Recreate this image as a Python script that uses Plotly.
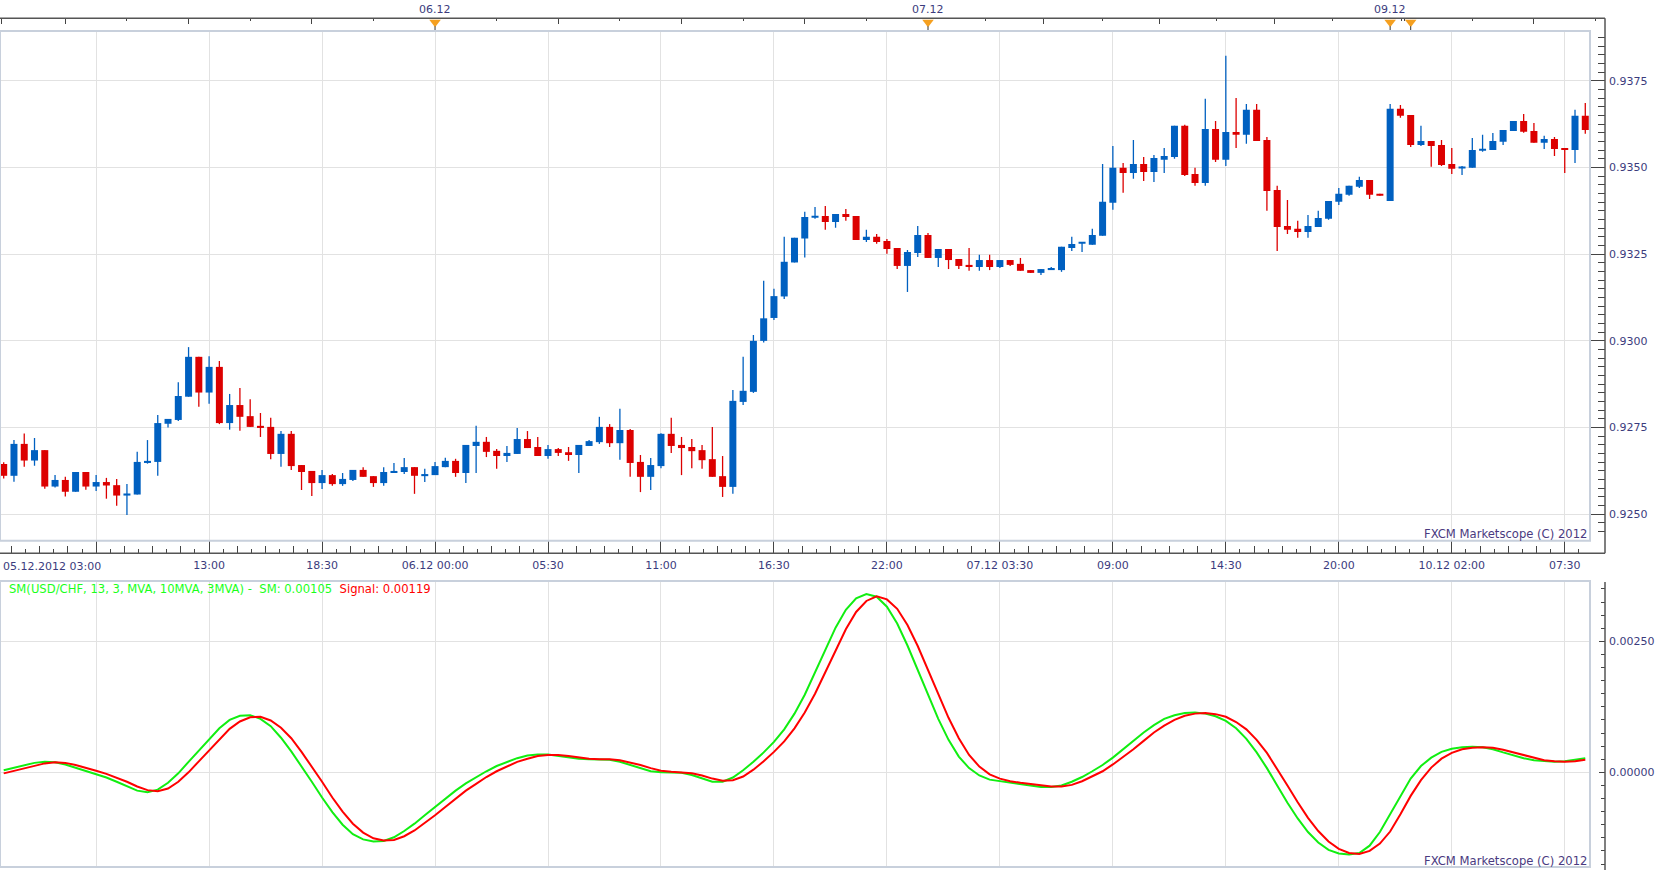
import plotly.graph_objects as go

# ---------------- data ----------------
opens = [0.92645,0.92611,0.92703,0.92655,0.92685,0.92580,0.92599,0.92565,0.92622,0.92580,
0.92593,0.92584,0.92554,0.92557,0.92648,0.92651,0.92761,0.92772,0.92839,0.92954,
0.92851,0.92925,0.92763,0.92815,0.92783,0.92755,0.92752,0.92674,0.92732,0.92642,
0.92625,0.92590,0.92613,0.92587,0.92599,0.92628,0.92610,0.92590,0.92619,0.92622,
0.92636,0.92610,0.92613,0.92636,0.92654,0.92619,0.92697,0.92709,0.92683,0.92668,
0.92674,0.92717,0.92694,0.92668,0.92688,0.92679,0.92671,0.92697,0.92708,0.92752,
0.92705,0.92743,0.92651,0.92608,0.92639,0.92732,0.92700,0.92694,0.92685,0.92659,
0.92610,0.92579,0.92824,0.92853,0.93000,0.93066,0.93128,0.93226,0.93295,0.93355,
0.93360,0.93343,0.93366,0.93360,0.93291,0.93300,0.93288,0.93268,0.93216,0.93253,
0.93305,0.93239,0.93265,0.93236,0.93219,0.93213,0.93233,0.93213,0.93233,0.93222,
0.93204,0.93196,0.93204,0.93204,0.93268,0.93280,0.93277,0.93303,0.93398,0.93499,
0.93484,0.93510,0.93487,0.93522,0.93530,0.93620,0.93481,0.93455,0.93611,0.93522,
0.93602,0.93594,0.93666,0.93579,0.93435,0.93331,0.93323,0.93314,0.93328,0.93352,
0.93401,0.93421,0.93444,0.93464,0.93424,0.93403,0.93669,0.93651,0.93565,0.93576,
0.93565,0.93510,0.93497,0.93499,0.93548,0.93550,0.93574,0.93605,0.93634,0.93605,
0.93571,0.93582,0.93556,0.93550,0.93649]

highs = [0.92650,0.92714,0.92733,0.92720,0.92685,0.92613,0.92608,0.92622,0.92622,0.92613,
0.92605,0.92602,0.92587,0.92680,0.92714,0.92786,0.92775,0.92881,0.92982,0.92954,
0.92956,0.92942,0.92847,0.92864,0.92832,0.92792,0.92778,0.92740,0.92740,0.92642,
0.92625,0.92628,0.92616,0.92619,0.92628,0.92636,0.92610,0.92636,0.92648,0.92662,
0.92636,0.92631,0.92651,0.92663,0.92660,0.92700,0.92755,0.92723,0.92688,0.92697,
0.92749,0.92740,0.92723,0.92700,0.92691,0.92694,0.92700,0.92714,0.92781,0.92760,
0.92804,0.92746,0.92671,0.92662,0.92734,0.92778,0.92723,0.92717,0.92700,0.92752,
0.92668,0.92858,0.92954,0.93017,0.93173,0.93150,0.93300,0.93297,0.93372,0.93386,
0.93389,0.93366,0.93380,0.93360,0.93320,0.93308,0.93294,0.93268,0.93262,0.93331,
0.93311,0.93265,0.93265,0.93236,0.93268,0.93248,0.93248,0.93233,0.93233,0.93239,
0.93204,0.93207,0.93213,0.93271,0.93300,0.93282,0.93323,0.93510,0.93562,0.93513,
0.93579,0.93530,0.93536,0.93556,0.93620,0.93623,0.93499,0.93698,0.93634,0.93822,
0.93700,0.93683,0.93683,0.93588,0.93447,0.93406,0.93346,0.93363,0.93375,0.93403,
0.93441,0.93447,0.93473,0.93464,0.93424,0.93683,0.93680,0.93651,0.93620,0.93576,
0.93579,0.93556,0.93504,0.93585,0.93594,0.93599,0.93608,0.93634,0.93654,0.93628,
0.93591,0.93588,0.93556,0.93666,0.93686]

lows = [0.92603,0.92594,0.92637,0.92640,0.92574,0.92577,0.92551,0.92565,0.92571,0.92567,
0.92545,0.92525,0.92498,0.92557,0.92646,0.92611,0.92750,0.92769,0.92839,0.92810,
0.92819,0.92760,0.92744,0.92741,0.92752,0.92723,0.92659,0.92637,0.92628,0.92570,
0.92553,0.92573,0.92582,0.92582,0.92596,0.92608,0.92579,0.92582,0.92619,0.92616,
0.92559,0.92593,0.92613,0.92636,0.92608,0.92590,0.92619,0.92665,0.92631,0.92651,
0.92674,0.92691,0.92668,0.92660,0.92668,0.92654,0.92619,0.92697,0.92703,0.92694,
0.92657,0.92608,0.92564,0.92570,0.92633,0.92677,0.92613,0.92633,0.92631,0.92608,
0.92550,0.92559,0.92815,0.92850,0.92995,0.93060,0.93121,0.93226,0.93240,0.93352,
0.93320,0.93326,0.93346,0.93291,0.93285,0.93280,0.93251,0.93207,0.93141,0.93242,
0.93239,0.93213,0.93207,0.93207,0.93202,0.93202,0.93204,0.93210,0.93216,0.93202,
0.93196,0.93190,0.93204,0.93199,0.93259,0.93256,0.93277,0.93303,0.93378,0.93427,
0.93467,0.93461,0.93458,0.93484,0.93525,0.93475,0.93447,0.93447,0.93516,0.93504,
0.93556,0.93568,0.93576,0.93375,0.93259,0.93308,0.93297,0.93297,0.93328,0.93349,
0.93392,0.93418,0.93441,0.93409,0.93418,0.93403,0.93643,0.93559,0.93562,0.93502,
0.93504,0.93481,0.93478,0.93499,0.93545,0.93550,0.93565,0.93605,0.93600,0.93571,
0.93553,0.93533,0.93484,0.93513,0.93597]

closes = [0.92611,0.92703,0.92655,0.92685,0.92580,0.92599,0.92565,0.92622,0.92580,0.92593,
0.92583,0.92554,0.92559,0.92651,0.92654,0.92763,0.92775,0.92841,0.92954,0.92851,
0.92925,0.92763,0.92815,0.92781,0.92752,0.92749,0.92674,0.92732,0.92639,0.92622,
0.92590,0.92613,0.92587,0.92602,0.92628,0.92608,0.92590,0.92622,0.92625,0.92636,
0.92611,0.92616,0.92639,0.92654,0.92619,0.92700,0.92709,0.92680,0.92668,0.92677,
0.92717,0.92691,0.92668,0.92688,0.92677,0.92671,0.92700,0.92711,0.92752,0.92705,
0.92743,0.92648,0.92608,0.92642,0.92732,0.92697,0.92691,0.92682,0.92656,0.92608,
0.92579,0.92827,0.92856,0.93000,0.93065,0.93129,0.93228,0.93297,0.93357,0.93360,
0.93343,0.93366,0.93357,0.93291,0.93300,0.93285,0.93265,0.93216,0.93256,0.93305,
0.93239,0.93265,0.93233,0.93216,0.93213,0.93233,0.93213,0.93233,0.93219,0.93202,
0.93196,0.93207,0.93207,0.93271,0.93279,0.93282,0.93305,0.93401,0.93499,0.93484,
0.93510,0.93487,0.93527,0.93533,0.93620,0.93478,0.93455,0.93611,0.93522,0.93602,
0.93594,0.93666,0.93576,0.93432,0.93328,0.93320,0.93314,0.93331,0.93354,0.93403,
0.93424,0.93447,0.93464,0.93421,0.93418,0.93669,0.93649,0.93565,0.93576,0.93562,
0.93507,0.93496,0.93502,0.93550,0.93553,0.93576,0.93608,0.93634,0.93603,0.93571,
0.93582,0.93553,0.93550,0.93649,0.93608]

sm = [0.00004,0.00009,0.00014,0.00018,0.00020,0.00019,0.00015,0.00009,0.00003,-0.00004,
-0.00010,-0.00018,-0.00027,-0.00035,-0.00038,-0.00033,-0.00020,-0.00002,0.00020,0.00042,
0.00064,0.00084,0.00100,0.00108,0.00109,0.00102,0.00088,0.00066,0.00040,0.00012,
-0.00018,-0.00048,-0.00076,-0.00100,-0.00118,-0.00128,-0.00132,-0.00131,-0.00124,-0.00112,
-0.00098,-0.00082,-0.00066,-0.00050,-0.00035,-0.00021,-0.00009,0.00002,0.00012,0.00020,
0.00027,0.00032,0.00034,0.00034,0.00031,0.00028,0.00026,0.00025,0.00025,0.00024,
0.00020,0.00014,0.00007,0.00002,0.00000,0.00000,-0.00001,-0.00005,-0.00012,-0.00018,
-0.00018,-0.00010,0.00004,0.00020,0.00038,0.00058,0.00082,0.00112,0.00148,0.00190,
0.00234,0.00276,0.00310,0.00332,0.00340,0.00335,0.00316,0.00284,0.00242,0.00196,
0.00148,0.00102,0.00062,0.00030,0.00008,-0.00006,-0.00014,-0.00017,-0.00020,-0.00022,
-0.00025,-0.00028,-0.00028,-0.00025,-0.00018,-0.00009,0.00002,0.00014,0.00028,0.00044,
0.00060,0.00076,0.00090,0.00102,0.00109,0.00113,0.00114,0.00112,0.00107,0.00098,
0.00084,0.00064,0.00038,0.00008,-0.00025,-0.00058,-0.00088,-0.00114,-0.00134,-0.00148,
-0.00155,-0.00157,-0.00154,-0.00140,-0.00114,-0.00080,-0.00044,-0.00012,0.00012,0.00028,
0.00039,0.00045,0.00048,0.00049,0.00048,0.00044,0.00038,0.00032,0.00027,0.00023,
0.00021,0.00020,0.00021,0.00024,0.00027]

signal = [-0.00002,0.00003,0.00008,0.00013,0.00017,0.00019,0.00018,0.00014,0.00009,0.00003,
-0.00003,-0.00010,-0.00018,-0.00027,-0.00034,-0.00036,-0.00031,-0.00018,0.00000,0.00021,
0.00042,0.00063,0.00083,0.00097,0.00105,0.00106,0.00099,0.00085,0.00065,0.00039,
0.00011,-0.00018,-0.00048,-0.00075,-0.00098,-0.00115,-0.00126,-0.00130,-0.00129,-0.00122,
-0.00111,-0.00097,-0.00082,-0.00066,-0.00050,-0.00035,-0.00022,-0.00009,0.00002,0.00011,
0.00020,0.00026,0.00031,0.00033,0.00033,0.00031,0.00028,0.00026,0.00025,0.00025,
0.00023,0.00019,0.00014,0.00008,0.00003,0.00001,0.00000,-0.00002,-0.00006,-0.00012,
-0.00016,-0.00015,-0.00008,0.00005,0.00021,0.00039,0.00059,0.00084,0.00114,0.00150,
0.00191,0.00233,0.00273,0.00306,0.00327,0.00336,0.00330,0.00312,0.00281,0.00241,
0.00195,0.00149,0.00104,0.00065,0.00033,0.00011,-0.00004,-0.00012,-0.00017,-0.00020,
-0.00022,-0.00025,-0.00027,-0.00027,-0.00024,-0.00017,-0.00008,0.00002,0.00015,0.00029,
0.00044,0.00060,0.00076,0.00089,0.00100,0.00108,0.00112,0.00113,0.00111,0.00106,
0.00096,0.00082,0.00062,0.00037,0.00007,-0.00025,-0.00057,-0.00087,-0.00112,-0.00132,
-0.00146,-0.00154,-0.00156,-0.00150,-0.00136,-0.00113,-0.00080,-0.00045,-0.00015,0.00009,
0.00026,0.00037,0.00044,0.00047,0.00048,0.00047,0.00043,0.00038,0.00032,0.00027,
0.00023,0.00021,0.00020,0.00021,0.00024]

time_tick_bars = [9, 20, 31, 42, 53, 64, 75, 86, 97, 108, 119, 130, 141, 152]
time_tick_text = ["", "13:00", "18:30", "06.12 00:00", "05:30", "11:00", "16:30",
                  "22:00", "07.12 03:30", "09:00", "14:30", "20:00", "10.12 02:00", "07:30"]
first_label = "05.12.2012 03:00"
day_labels = ["06.12", "07.12", "09.12", "10.12"]
day_bars = [42, 90, 135, 137]
top_major_ticks = [-0.18, 6, 18, 30, 54, 66, 78, 101.2, 112.5, 123.7, 149]
top_minor_ticks = [12, 24, 36, 48, 60, 72, 84, 95.6, 107, 118.1, 129.4, 136.1, 136.4, 143, 155]

# ---------------- styling / layout helpers ----------------
W, H = 1663, 870
UP, DOWN = "#0060c0", "#dc0000"
GREEN, RED = "#11ee11", "#ff0000"
TXT = "#3b3b7d"
GRID = "#e2e2e2"
FONT = "DejaVu Sans"

def px(v):
    return v / W

def py(v):
    return 1 - v / H

TOP_LINE = 18.3      # top time strip line
PLOT_TOP = 31.0      # price panel top
PLOT_BOT = 540.7     # price panel bottom
BASE = 553.3         # bottom time axis base line
OSC_TOP = 581.0
OSC_BOT = 867.0
RIGHT = 1605.0
PLOT_RIGHT = 1590.0

bars = list(range(len(opens)))
up = [i for i in bars if closes[i] >= opens[i]]
dn = [i for i in bars if closes[i] < opens[i]]
MINH = 0.00006

def wick_xy(idx):
    xs, ys = [], []
    for i in idx:
        xs += [i, i, None]
        ys += [lows[i], highs[i], None]
    return xs, ys

fig = go.Figure()
for idx, col in ((up, UP), (dn, DOWN)):
    wx, wy = wick_xy(idx)
    fig.add_trace(go.Scatter(x=wx, y=wy, mode="lines", line=dict(color=col, width=1.3),
                             hoverinfo="skip", xaxis="x", yaxis="y"))
    fig.add_trace(go.Bar(x=idx,
                         y=[max(abs(closes[i] - opens[i]), MINH) for i in idx],
                         base=[min(opens[i], closes[i]) for i in idx],
                         width=0.68, marker=dict(color=col, line=dict(width=0)),
                         xaxis="x", yaxis="y"))

fig.add_trace(go.Scatter(x=bars, y=sm, mode="lines", line=dict(color=GREEN, width=2),
                         xaxis="x2", yaxis="y2"))
fig.add_trace(go.Scatter(x=bars, y=signal, mode="lines", line=dict(color=RED, width=2),
                         xaxis="x2", yaxis="y2"))

# day separator markers on the top time strip
fig.add_trace(go.Scatter(x=day_bars, y=[0.68] * len(day_bars), mode="markers",
                         marker=dict(symbol="triangle-down", size=10, color="#f5a020",
                                     line=dict(width=0)),
                         xaxis="x3", yaxis="y3", cliponaxis=False))
fig.add_trace(go.Scatter(x=day_bars, y=[0.15] * len(day_bars), mode="markers",
                         marker=dict(symbol="line-ns", size=4, line=dict(color="#333", width=1)),
                         xaxis="x3", yaxis="y3", cliponaxis=False))
# carrier trace for the medium-tick overlay axis
fig.add_trace(go.Scatter(x=[None], y=[None], mode="lines", xaxis="x4", yaxis="y",
                         showlegend=False, hoverinfo="skip"))

# medium ticks between major time ticks
step = (time_tick_bars[1] - time_tick_bars[0]) / 4
mid_ticks = []
for b in [time_tick_bars[0] - 11] + time_tick_bars:
    for j in (1, 2, 3):
        v = b + j * step
        if -0.3 < v < 154.4:
            mid_ticks.append(v)

XR = [-0.36, 154.46]
xdom = [0, px(PLOT_RIGHT)]
tickfont = dict(family=FONT, size=11, color=TXT)

fig.update_layout(
    width=W, height=H, margin=dict(l=0, r=0, t=0, b=0),
    paper_bgcolor="white", plot_bgcolor="white", showlegend=False,
    barmode="overlay",
    font=dict(family=FONT, size=11, color=TXT),
    xaxis=dict(domain=xdom, range=XR, anchor="free", position=py(BASE), side="bottom",
               tickmode="array", tickvals=time_tick_bars, ticktext=time_tick_text,
               ticks="inside", ticklen=13, tickwidth=1, tickcolor="#444",
               showgrid=True, gridcolor=GRID, gridwidth=1, zeroline=False, showline=False,
               tickfont=tickfont, ticklabelstandoff=4,
               minor=dict(tick0=9, dtick=1.375, ticks="inside", ticklen=4,
                          tickcolor="#444", tickwidth=1, showgrid=False)),
    xaxis4=dict(overlaying="x", matches="x", anchor="free", position=py(BASE),
                side="bottom", tickmode="array", tickvals=mid_ticks, ticks="inside",
                ticklen=7, tickcolor="#444", tickwidth=1, showticklabels=False,
                showgrid=False, zeroline=False, showline=False),
    yaxis=dict(domain=[py(PLOT_BOT), py(PLOT_TOP)], range=[0.924239, 0.938933],
               anchor="free", position=px(RIGHT), side="right",
               tick0=0.925, dtick=0.0025, tickformat=".4f",
               ticks="inside", ticklen=14, tickcolor="#444", tickwidth=1,
               showgrid=True, gridcolor=GRID, gridwidth=1, zeroline=False, showline=False,
               tickfont=tickfont, ticklabelstandoff=3,
               minor=dict(tick0=0.925, dtick=0.00025, ticks="inside", ticklen=7,
                          tickcolor="#444", tickwidth=1, showgrid=False)),
    xaxis2=dict(domain=xdom, matches="x", anchor="y2", tickmode="array",
                tickvals=time_tick_bars, showticklabels=False, ticks="",
                showgrid=True, gridcolor=GRID, gridwidth=1, zeroline=False, showline=False),
    yaxis2=dict(domain=[py(OSC_BOT), py(OSC_TOP)], range=[-0.001807, 0.003651],
                anchor="free", position=px(RIGHT), side="right",
                tickmode="array", tickvals=[0.0, 0.0025], tickformat=".5f",
                ticks="inside", ticklen=6, tickcolor="#444", tickwidth=1,
                showgrid=True, gridcolor=GRID, gridwidth=1, zeroline=False, showline=False,
                tickfont=tickfont, ticklabelstandoff=3,
                minor=dict(tick0=0, dtick=0.00025, ticks="inside", ticklen=4,
                           tickcolor="#444", tickwidth=1, showgrid=False)),
    xaxis3=dict(domain=[0, px(RIGHT)], range=[-0.36, 155.92], anchor="y3", side="top",
                tickmode="array", tickvals=top_major_ticks, ticks="inside", ticklen=6,
                tickcolor="#444", tickwidth=1, showticklabels=False, showgrid=False,
                zeroline=False, showline=False,
                minor=dict(tickmode="array", tickvals=top_minor_ticks, ticks="inside",
                           ticklen=2.5, tickcolor="#444", tickwidth=1, showgrid=False)),
    yaxis3=dict(domain=[py(PLOT_TOP), py(TOP_LINE)], range=[0, 1], visible=False, anchor="x3"),
)

# frames and axis lines (decoration)
frame = dict(color="#c8d0dc", width=2)
axis_line = dict(color="#555555", width=1.5)
shapes = [
    dict(type="rect", xref="x domain", yref="y domain", x0=0, x1=1, y0=0, y1=1,
         line=frame, layer="above"),
    dict(type="rect", xref="x2 domain", yref="y2 domain", x0=0, x1=1, y0=0, y1=1,
         line=frame, layer="above"),
    dict(type="line", xref="paper", yref="paper", x0=0, x1=px(RIGHT), y0=py(TOP_LINE),
         y1=py(TOP_LINE), line=axis_line),
    dict(type="line", xref="paper", yref="paper", x0=px(RIGHT), x1=px(RIGHT), y0=py(TOP_LINE),
         y1=py(BASE), line=axis_line),
    dict(type="line", xref="paper", yref="paper", x0=0, x1=px(RIGHT), y0=py(BASE),
         y1=py(BASE), line=axis_line),
    dict(type="line", xref="paper", yref="paper", x0=px(RIGHT), x1=px(RIGHT), y0=py(582),
         y1=0, line=axis_line),
]
fig.update_layout(shapes=shapes)

wm_font = dict(family=FONT, size=11.6, color="#4a3a80")
ann = [
    dict(text=first_label, xref="paper", yref="paper", x=px(1), y=py(566.7),
         xanchor="left", yanchor="middle", showarrow=False, font=tickfont),
    dict(text="FXCM Marketscope (C) 2012", xref="paper", yref="paper", x=px(1589),
         y=py(534), xanchor="right", yanchor="middle", showarrow=False, font=wm_font),
    dict(text="FXCM Marketscope (C) 2012", xref="paper", yref="paper", x=px(1589),
         y=py(861), xanchor="right", yanchor="middle", showarrow=False, font=wm_font),
    dict(text=("<span style='color:%s'>SM(USD/CHF, 13, 3, MVA, 10MVA, 3MVA) -&nbsp;&nbsp;SM: 0.00105</span>"
               "&nbsp;&nbsp;<span style='color:%s'>Signal: 0.00119</span>") % ("#1aff1a", RED),
         xref="paper", yref="paper", x=px(7), y=py(589.3), xanchor="left", yanchor="middle",
         showarrow=False, font=dict(family=FONT, size=11.6)),
]
for lab, b in zip(day_labels[:3], day_bars[:3]):
    ann.append(dict(text=lab, xref="x3", yref="paper", x=b, y=py(9), xanchor="center",
                    yanchor="middle", showarrow=False, font=tickfont))
fig.update_layout(annotations=ann)

fig.write_html("out.html")
